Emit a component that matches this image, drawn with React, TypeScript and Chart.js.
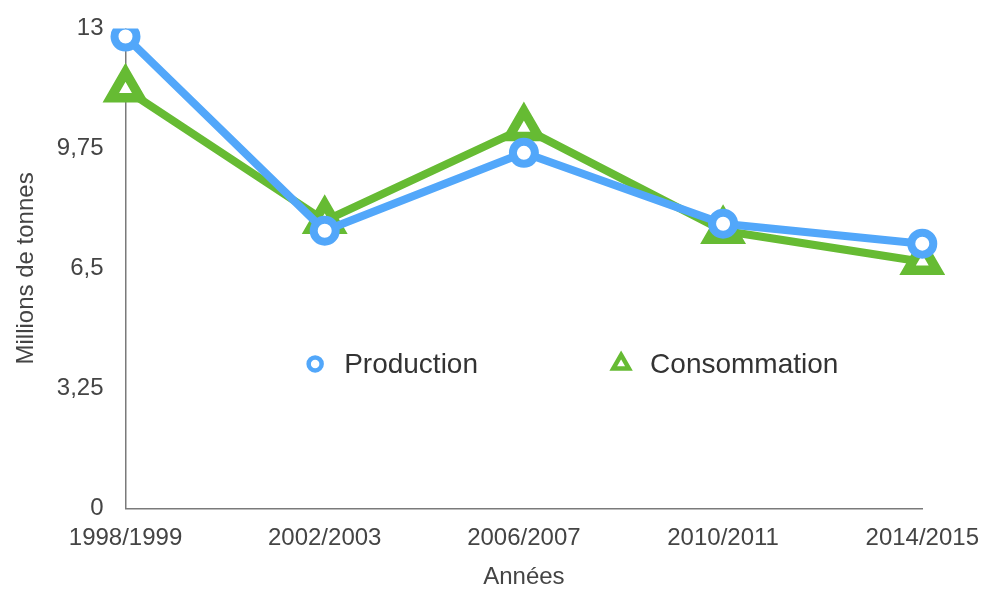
import { useEffect, useRef } from 'react';
import { Chart, registerables } from 'chart.js';

Chart.register(...registerables);

const seasons = ['1998/1999', '2002/2003', '2006/2007', '2010/2011', '2014/2015'];
const production = [12.78, 7.52, 9.63, 7.71, 7.17];
const consumption = [11.35, 7.79, 10.3, 7.52, 6.68];
const yTicks = [0, 3.25, 6.5, 9.75, 13];

const BLUE = '#52a7fa';
const GREEN = '#66bb33';
const FONT = '"Liberation Sans", Arial, Helvetica, sans-serif';

// Legend drawn inside the plot area, roughly mid-height
const insideLegend = {
  id: 'insideLegend',
  afterDatasetsDraw(chart: any) {
    const { ctx, chartArea: a } = chart;
    const y = a.top + (a.bottom - a.top) * 0.699;
    const xs = [0.238, 0.622];
    chart.data.datasets.forEach((ds: any, i: number) => {
      const x = a.left + (a.right - a.left) * xs[i];
      ctx.save();
      ctx.lineWidth = 4.5;
      ctx.strokeStyle = ds.borderColor;
      ctx.fillStyle = '#ffffff';
      ctx.beginPath();
      if (ds.pointStyle === 'triangle') {
        const r = 9;
        ctx.moveTo(x, y - r);
        ctx.lineTo(x + r * 0.866, y + r * 0.5);
        ctx.lineTo(x - r * 0.866, y + r * 0.5);
        ctx.closePath();
        ctx.lineJoin = 'miter';
      } else {
        ctx.arc(x, y, 6.5, 0, Math.PI * 2);
      }
      ctx.fill();
      ctx.stroke();
      ctx.fillStyle = '#333333';
      ctx.font = `28px ${FONT}`;
      ctx.textBaseline = 'middle';
      ctx.textAlign = 'left';
      ctx.fillText(ds.label, x + 29, y + 1);
      ctx.restore();
    });
  },
};

export default function App() {
  const ref = useRef<HTMLCanvasElement>(null);

  useEffect(() => {
    if (!ref.current) return;
    const chart = new Chart(ref.current, {
      type: 'line',
      data: {
        labels: seasons,
        datasets: [
          {
            label: 'Production',
            data: production,
            borderColor: BLUE,
            backgroundColor: '#ffffff',
            borderWidth: 8,
            pointStyle: 'circle',
            pointRadius: 11,
            pointBorderWidth: 8,
            pointBackgroundColor: '#ffffff',
            pointBorderColor: BLUE,
            tension: 0,
            borderJoinStyle: 'round',
          },
          {
            label: 'Consommation',
            data: consumption,
            borderColor: GREEN,
            backgroundColor: '#ffffff',
            borderWidth: 8,
            pointStyle: 'triangle',
            pointRadius: 17,
            pointBorderWidth: 9.5,
            pointBackgroundColor: '#ffffff',
            pointBorderColor: GREEN,
            tension: 0,
            borderJoinStyle: 'round',
          },
        ],
      },
      options: {
        animation: false,
        responsive: true,
        maintainAspectRatio: false,
        layout: { padding: { top: 2, right: 0, left: 12, bottom: 0 } },
        plugins: {
          legend: { display: false },
          tooltip: { enabled: false },
        },
        scales: {
          x: {
            offset: false,
            grid: { display: false, drawTicks: false },
            border: { display: true, color: '#7a7a7a', width: 1.5 },
            ticks: {
              padding: 16,
              color: '#444444',
              font: { family: FONT, size: 24 },
              maxRotation: 0,
              autoSkip: false,
            },
            title: {
              display: true,
              text: 'Années',
              color: '#444444',
              font: { family: FONT, size: 24 },
              padding: { top: -6, bottom: 0 },
            },
          },
          y: {
            min: 0,
            max: 13,
            grid: { display: false, drawTicks: false },
            border: { display: true, color: '#7a7a7a', width: 1.5 },
            afterBuildTicks: (axis: any) => {
              axis.ticks = yTicks.map((v) => ({ value: v }));
            },
            ticks: {
              padding: 22,
              color: '#444444',
              font: { family: FONT, size: 24 },
              callback: (v: any) => String(v).replace('.', ','),
            },
            title: {
              display: true,
              text: 'Millions de tonnes',
              color: '#444444',
              font: { family: FONT, size: 24 },
              padding: { top: 0, bottom: -6 },
            },
          },
        },
      },
      plugins: [insideLegend],
    });
    return () => chart.destroy();
  }, []);

  // The canvas runs slightly past the top and right edges of the window
  return (
    <div style={{ position: 'fixed', left: 0, top: -8, width: 995, height: 600, background: '#ffffff' }}>
      <canvas ref={ref} />
    </div>
  );
}
